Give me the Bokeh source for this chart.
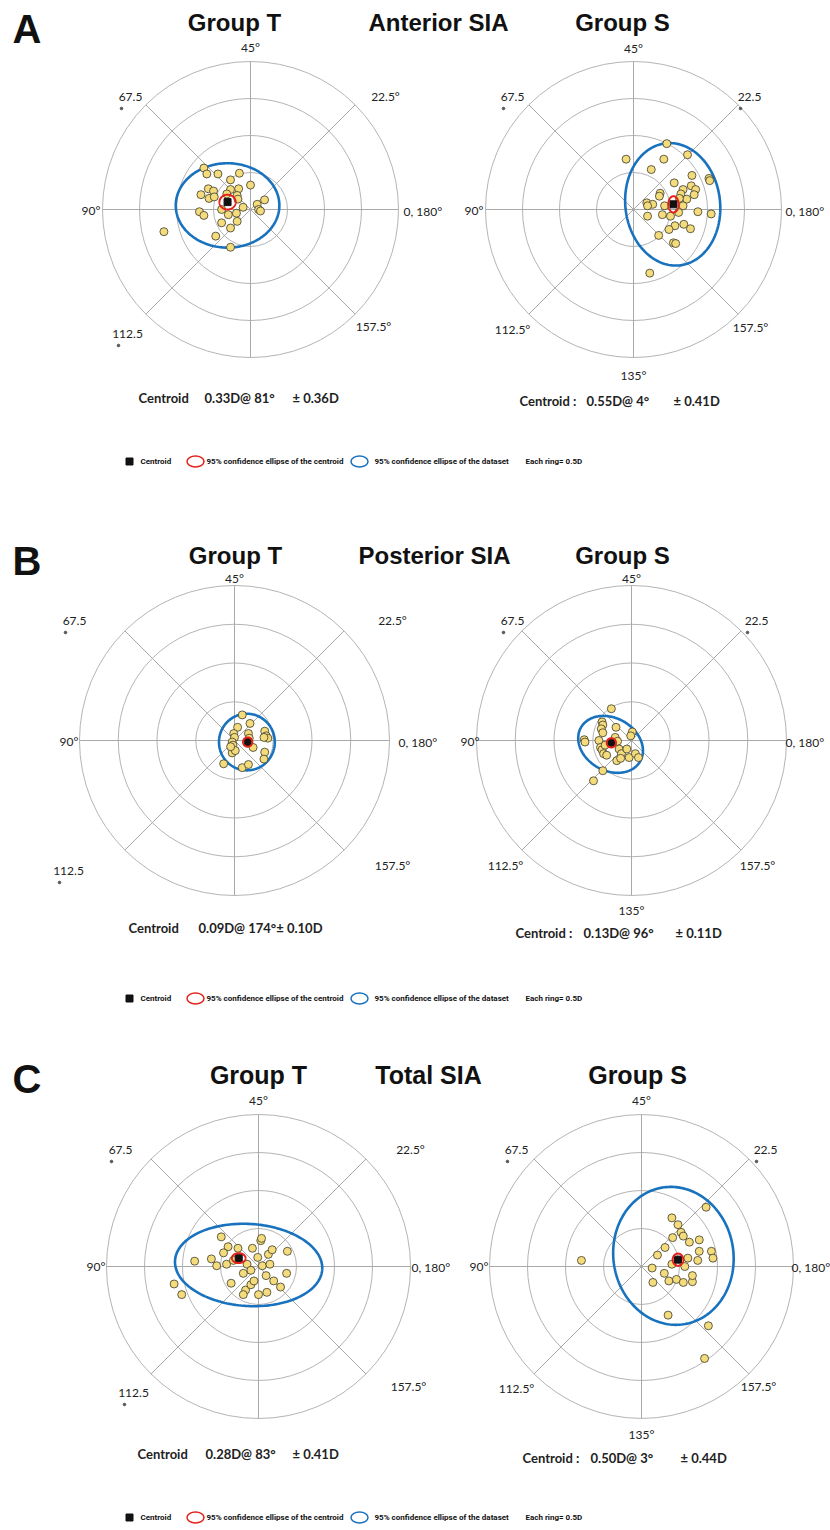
import numpy as np
from bokeh.plotting import figure
from bokeh.models import Range1d
from bokeh.core.properties import value
from bokeh.embed import file_html
from bokeh.resources import INLINE

# ---------------- data: double-angle plot coordinates in dioptres ----------------
AT_x = [-0.63, -0.59, -0.44, -0.15, -0.27, 0.00, -0.57, -0.50, -0.67, -0.56, -0.49, -0.27, -0.16,
        -0.18, -0.17, -0.32, -0.10, 0.09, 0.19, 0.11, 0.135, -0.39, -0.30, -0.19, -0.69, -0.63,
        -0.39, -0.18, -0.27, -0.47, -0.27, -1.17]
AT_y = [0.56, 0.48, 0.48, 0.49, 0.40, 0.33, 0.28, 0.25, 0.20, 0.15, 0.17, 0.27, 0.28,
        0.19, 0.14, 0.21, 0.03, 0.07, 0.13, 0.00, -0.02, 0.00, -0.07, -0.05, -0.03, -0.08,
        -0.18, -0.16, -0.25, -0.36, -0.51, -0.30]

AS_x = [0.45, -0.10, 0.41, 0.73, 0.24, 0.79, 1.02, 1.03, 0.55, 0.78, 0.84, 0.82, 0.67, 0.64, 0.72,
        0.36, 0.35, 0.62, 0.67, 0.18, 0.26, 0.19, 0.42, 0.61, 0.87, 1.05, 0.19, 0.39, 0.50, 0.56,
        0.68, 0.77, 0.48, 0.34, 0.54, 0.57, 0.22]
AS_y = [0.89, 0.68, 0.68, 0.74, 0.54, 0.46, 0.42, 0.39, 0.36, 0.32, 0.27, 0.20, 0.27, 0.21, 0.14,
        0.22, 0.18, 0.15, 0.05, 0.09, 0.07, 0.05, 0.05, -0.04, -0.03, -0.06, -0.09, -0.07, -0.09,
        -0.22, -0.20, -0.26, -0.27, -0.35, -0.45, -0.46, -0.86]

BT_x = [0.10, 0.20, 0.04, -0.01, 0.00, -0.03, -0.02, -0.03, -0.14, 0.10, 0.18, 0.39, 0.41, 0.43,
        0.38, 0.39, 0.38, 0.18, 0.19, 0.24, 0.01, -0.05]
BT_y = [0.33, 0.22, 0.17, 0.09, 0.04, -0.02, -0.06, -0.16, -0.30, -0.35, -0.31, 0.12, 0.06, 0.03,
        0.04, -0.15, -0.24, 0.09, 0.03, -0.09, -0.13, -0.08]

BS_x = [-0.26, -0.38, -0.37, -0.39, -0.37, -0.20, -0.61, -0.60, -0.42, -0.40, -0.38, -0.36, -0.32,
        -0.34, -0.21, -0.18, 0.01, -0.01, -0.16, -0.13, -0.06, -0.03, 0.05, 0.09, -0.19, -0.14,
        -0.37, -0.49]
BS_y = [0.41, 0.24, 0.20, 0.15, 0.10, 0.17, 0.01, -0.02, 0.00, -0.09, -0.12, -0.17, -0.19,
        -0.06, 0.04, -0.01, 0.11, 0.06, -0.11, -0.17, -0.11, -0.22, -0.17, -0.22, -0.26, -0.23,
        -0.39, -0.52]

CT_x = [-0.49, -0.40, -0.27, -0.08, 0.03, 0.04, -0.46, -0.62, -0.84, 0.13, -0.01, -1.11, -1.01,
        -0.36, -0.17, -0.10, -0.06, -0.20, 0.00, 0.11, 0.29, 0.37, 0.38, 0.18, -0.55, -0.42,
        -0.33, -0.15, -0.10, 0.05, 0.15, -0.20, 0.10, 0.20]
CT_y = [0.39, 0.26, 0.24, 0.24, 0.34, 0.37, 0.18, 0.10, 0.07, 0.16, 0.12, -0.23, -0.37,
        -0.22, -0.31, -0.24, -0.19, -0.37, -0.37, -0.34, -0.27, -0.09, 0.20, 0.22, 0.01, 0.03,
        0.08, 0.03, -0.05, 0.01, 0.03, -0.09, -0.12, -0.19]

CS_x = [0.15, 0.36, 0.46, 0.55, 0.67, 0.67, 0.35, 0.88, 0.83, -0.79, 0.85, 0.40, 0.48, 0.52,
        0.41, 0.55, 0.63, 0.76, 0.92, 0.94, 0.76, 0.31, 0.21, 0.61, 0.74, 0.40, 0.57, 0.14, 0.30]
CS_y = [-0.21, -0.19, -0.17, -0.21, -0.20, -0.12, -0.64, -0.78, -1.21, 0.08, 0.78, 0.64, 0.55,
        0.45, 0.38, 0.40, 0.32, 0.35, 0.20, 0.11, 0.20, 0.25, 0.15, 0.11, 0.08, 0.03, 0.00, -0.02,
        -0.09]

POINTS = {"AT": (AT_x, AT_y), "AS": (AS_x, AS_y), "BT": (BT_x, BT_y),
          "BS": (BS_x, BS_y), "CT": (CT_x, CT_y), "CS": (CS_x, CS_y)}

# centroid position (x, y) in dioptres
CENTROID = {"AT": (-0.31, 0.10), "AS": (0.54, 0.07), "BT": (0.17, -0.02),
            "BS": (-0.26, -0.03), "CT": (-0.26, 0.11), "CS": (0.48, 0.09)}
# 95% ellipses: centre x, centre y, semi-axis x, semi-axis y, rotation (rad)
ELL_DATA = {"AT": (-0.31, 0.055, 0.70, 0.57, 0.0), "AS": (0.53, 0.07, 0.64, 0.83, 0.12),
            "BT": (0.16, -0.02, 0.36, 0.365, 0.0), "BS": (-0.27, -0.05, 0.44, 0.34, -0.52),
            "CT": (-0.13, 0.02, 0.97, 0.54, -0.06), "CS": (0.42, 0.14, 0.79, 0.91, 0.15)}
ELL_CENT = {"AT": (-0.31, 0.10, 0.11, 0.10, 0.0), "AS": (0.54, 0.07, 0.07, 0.11, 0.0),
            "BT": (0.17, -0.02, 0.06, 0.06, 0.0), "BS": (-0.26, -0.03, 0.06, 0.06, 0.0),
            "CT": (-0.26, 0.11, 0.09, 0.065, 0.0), "CS": (0.48, 0.09, 0.07, 0.08, 0.0)}

RING_D = [0.5, 1.0, 1.5, 2.0]
SPOKE_DEG = [0, 45, 90, 135, 180, 225, 270, 315]

ROW_LETTERS = ["A", "B", "C"]
ROW_TITLES = ["Anterior SIA", "Posterior SIA", "Total SIA"]
GROUP_TITLES = ["Group T", "Group S"]

CENTROID_TEXT = {
    "AT": ["Centroid", "0.33D@ 81°", "± 0.36D"],
    "AS": ["Centroid :", "0.55D@ 4°", "± 0.41D"],
    "BT": ["Centroid", "0.09D@ 174°± 0.10D"],
    "BS": ["Centroid :", "0.13D@ 96°", "± 0.11D"],
    "CT": ["Centroid", "0.28D@ 83°", "± 0.41D"],
    "CS": ["Centroid :", "0.50D@ 3°", "± 0.44D"],
}
AXIS_LABELS_T = ["45°", "67.5", "22.5°", "90°", "0, 180°", "112.5", "157.5°"]
AXIS_LABELS_S = ["45°", "67.5", "22.5", "90°", "0, 180°", "112.5°", "157.5°", "135°"]
LEGEND_TEXT = ["Centroid", "95% confidence  ellipse of the centroid",
               "95% confidence ellipse of the dataset", "Each ring= 0.5D"]

# ---------------- layout (page pixels) ----------------
W, H = 830, 1530
LAY = {
    "AT": dict(cx=250, cy=209, k=74,
               lab=[(0, -162), (-120, -113), (135, -113), (-150, 1), (153, 2), (-123, 124), (123, 117)]),
    "AS": dict(cx=633, cy=209, k=74,
               lab=[(0, -161), (-121, -113), (116, -113), (-150, 1), (152, 2), (-121, 120), (117, 118), (0, 166)]),
    "BT": dict(cx=234, cy=740, k=77.5,
               lab=[(0, -162), (-160, -120), (158, -120), (-156, 1), (164, 2), (-166, 130), (158, 125)]),
    "BS": dict(cx=631, cy=740, k=77.5,
               lab=[(0, -162), (-119, -120), (125, -120), (-152, 1), (154, 2), (-126, 125), (126, 125), (0, 170)]),
    "CT": dict(cx=258, cy=1266, k=76,
               lab=[(0, -166), (-138, -117), (152, -117), (-153, 0), (153, 1), (-125, 126), (150, 120)]),
    "CS": dict(cx=641, cy=1266, k=76,
               lab=[(0, -166), (-125, -117), (124, -117), (-153, 0), (150, 1), (-125, 122), (117, 120), (0, 168)]),
}
CENT_POS = {"AT": ([138, 204, 292], 397), "AS": ([519, 586, 673], 400),
            "BT": ([128, 198], 927), "BS": ([515, 583, 675], 932),
            "CT": ([137, 205, 292], 1453), "CS": ([522, 590, 680], 1457)}
ROW_Y = [dict(letter=28, title=22, tx=[234, 438, 622], size="24px", legend=461),
         dict(letter=560, title=555, tx=[235, 434, 622], size="24px", legend=998),
         dict(letter=1078, title=1074, tx=[258, 428, 637], size="25px", legend=1517)]

GRID_COL = "#b4b4b4"
SPOKE_COL = "#a9a9a9"
PT_FILL = "#f4dc7c"
PT_LINE = "#3b3a2c"
BLUE = "#1872bd"
RED = "#e3221c"
TXT = "#222222"
LEG_FONT = "Roboto"

p = figure(width=W, height=H, x_range=Range1d(0, W), y_range=Range1d(H, 0),
           output_backend="svg", toolbar_location=None, min_border=0,
           x_axis_location=None, y_axis_location=None, background_fill_color="white")
p.grid.visible = False
p.outline_line_color = None

t = np.linspace(0, 2 * np.pi, 200)


def ellipse_xy(L, e):
    ex, ey, a, b, ang = e
    X = ex + a * np.cos(t) * np.cos(ang) - b * np.sin(t) * np.sin(ang)
    Y = ey + a * np.cos(t) * np.sin(ang) + b * np.sin(t) * np.cos(ang)
    return L["cx"] + X * L["k"], L["cy"] - Y * L["k"]


for key, L in LAY.items():
    cx, cy, k = L["cx"], L["cy"], L["k"]
    # rings
    p.circle(x=[cx] * len(RING_D), y=[cy] * len(RING_D), radius=[r * k for r in RING_D],
             fill_color=None, line_color=GRID_COL, line_width=1)
    R = RING_D[-1] * k
    ang = np.radians(SPOKE_DEG)
    p.segment(x0=[cx] * len(ang), y0=[cy] * len(ang), x1=cx + R * np.cos(ang), y1=cy - R * np.sin(ang),
              line_color=SPOKE_COL, line_width=1)
    # axis labels
    labels = AXIS_LABELS_T if key.endswith("T") else AXIS_LABELS_S
    for txt, (dx, dy) in zip(labels, L["lab"]):
        align = "center"
        if txt == "90°":
            align = "right"
        elif txt.startswith("0,"):
            align = "left"
        p.text(x=[cx + dx], y=[cy + dy], text=[txt], text_align=align, text_baseline="middle",
               text_font=value("Lato"), text_font_size="12px", text_color=TXT)
        if not txt.endswith("°"):
            p.scatter(x=[cx + dx - 9], y=[cy + dy + 12], size=2.6, color="#555555")
    # ellipses
    bx, by = ellipse_xy(L, ELL_DATA[key])
    p.line(bx, by, line_color=BLUE, line_width=2.6)
    # points
    xs, ys = POINTS[key]
    p.scatter(x=cx + np.array(xs) * k, y=cy - np.array(ys) * k, size=8,
              fill_color=PT_FILL, line_color=PT_LINE, line_width=0.8)
    # centroid
    c = CENTROID[key]
    p.scatter(x=[cx + c[0] * k], y=[cy - c[1] * k], marker="square", size=7, color="#111111")
    rx, ry = ellipse_xy(L, ELL_CENT[key])
    p.line(rx, ry, line_color=RED, line_width=2)
    # centroid text
    xs_t, yt = CENT_POS[key]
    p.text(x=xs_t, y=[yt] * len(xs_t), text=CENTROID_TEXT[key], text_align="left", text_baseline="middle",
           text_font=value("Lato"), text_font_size="13px", text_font_style="bold", text_color=TXT)

for i, RY in enumerate(ROW_Y):
    p.text(x=[12], y=[RY["letter"]], text=[ROW_LETTERS[i]], text_align="left", text_baseline="middle",
           text_font=value("Liberation Sans"), text_font_size="40px", text_font_style="bold",
           text_color="#111111")
    p.text(x=RY["tx"], y=[RY["title"]] * 3, text=[GROUP_TITLES[0], ROW_TITLES[i], GROUP_TITLES[1]],
           text_align="center", text_baseline="middle", text_font=value("Liberation Sans"),
           text_font_size=RY["size"], text_font_style="bold", text_color="#111111")
    ly = RY["legend"]
    p.scatter(x=[129], y=[ly], marker="square", size=7, color="#111111")
    p.ellipse(x=[195], y=[ly], width=17, height=11, fill_color=None, line_color=RED, line_width=1.5)
    p.ellipse(x=[359], y=[ly], width=17, height=11, fill_color=None, line_color=BLUE, line_width=1.5)
    p.text(x=[140, 206, 374, 525], y=[ly] * 4, text=LEGEND_TEXT, text_align="left", text_baseline="middle",
           text_font=value(LEG_FONT), text_font_size="8px", text_font_style="bold",
           text_color="#111111")

open("out.html", "w").write(file_html(p, INLINE))
